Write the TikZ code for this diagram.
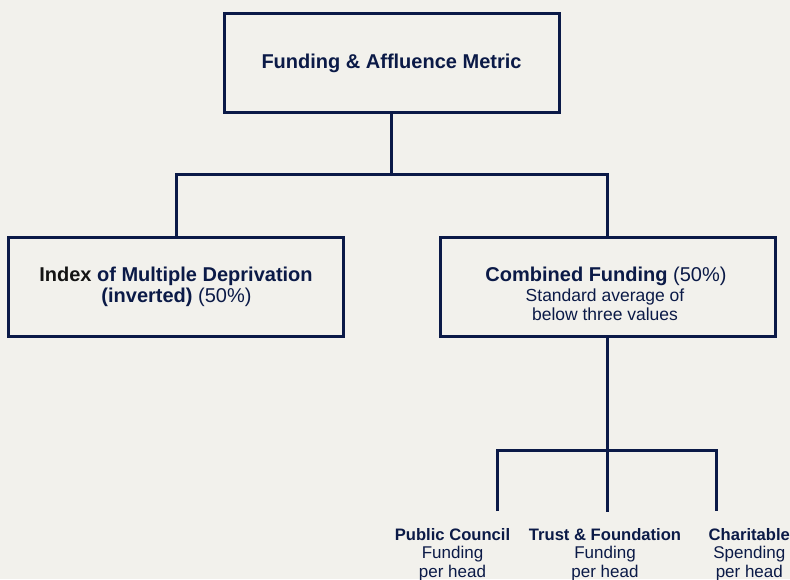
\documentclass[tikz,border=0pt]{standalone}
\usepackage{fontspec}
\setmainfont{Liberation Sans}
\definecolor{navy}{HTML}{0B1A47}
\definecolor{bg}{HTML}{F2F1EC}
\definecolor{ink}{HTML}{141414}
\begin{document}
\begin{tikzpicture}[x=1pt,y=-1pt,
  box/.style={draw=navy,line width=3pt,minimum width=335pt,minimum height=99pt,inner sep=0pt},
  conn/.style={draw=navy,line width=3pt},
  big/.style={anchor=base,inner sep=0pt,text=navy,font=\fontsize{20}{24}\selectfont},
  mid/.style={anchor=base,inner sep=0pt,text=navy,font=\fontsize{17.5}{21}\selectfont},
  smb/.style={anchor=base,inner sep=0pt,text=navy,font=\fontsize{16.6}{20}\selectfont\bfseries},
  sm/.style={anchor=base,inner sep=0pt,text=navy,font=\fontsize{17}{20}\selectfont}]
\fill[bg] (0,0) rectangle (790,579);
\useasboundingbox (0,0) rectangle (790,579);
% boxes
\node[box] (top) at (391.8,62.8) {};
\node[box] (imd) at (176.3,286.5) {};
\node[box] (comb) at (607.7,286.5) {};
% junctions and connector ends
\coordinate (j1) at (391.8,174.5);
\coordinate (j2) at (607.7,450.3);
\coordinate (c1) at (497,511);
\coordinate (c2) at (607.7,512);
\coordinate (c3) at (716,511);
\draw[conn] (top.south) -- (j1);
\draw[conn] (imd.north) |- (j1) -| (comb.north);
\draw[conn] (comb.south) -- (j2);
\draw[conn] (c1) |- (j2) -| (c3);
\draw[conn] (j2) -- (c2);
% texts
\node[big] (tt) at (391.5,68.5) {\bfseries Funding \& Affluence Metric};
\node[big] (l1) at (176,281) {\bfseries\textcolor{ink}{Index} of Multiple Deprivation};
\node[big] (l2) at (176.5,302) {\textbf{(inverted)} (50\%)};
\node[big] (r1) at (606,281) {\textbf{Combined Funding} (50\%)};
\node[mid] (r2) at (605,301.5) {Standard average of};
\node[mid] (r3) at (605,320.5) {below three values};
\node[smb] (p1) at (452.5,540) {Public Council};
\node[sm] (p2) at (452.5,558.5) {Funding};
\node[sm] (p3) at (452.5,577) {per head};
\node[smb] (q1) at (605,540) {Trust \& Foundation};
\node[sm] (q2) at (605,558.5) {Funding};
\node[sm] (q3) at (605,577) {per head};
\node[smb] (s1) at (749.3,540) {Charitable};
\node[sm] (s2) at (749.3,558.5) {Spending};
\node[sm] (s3) at (749.3,577) {per head};
\end{tikzpicture}
\end{document}
